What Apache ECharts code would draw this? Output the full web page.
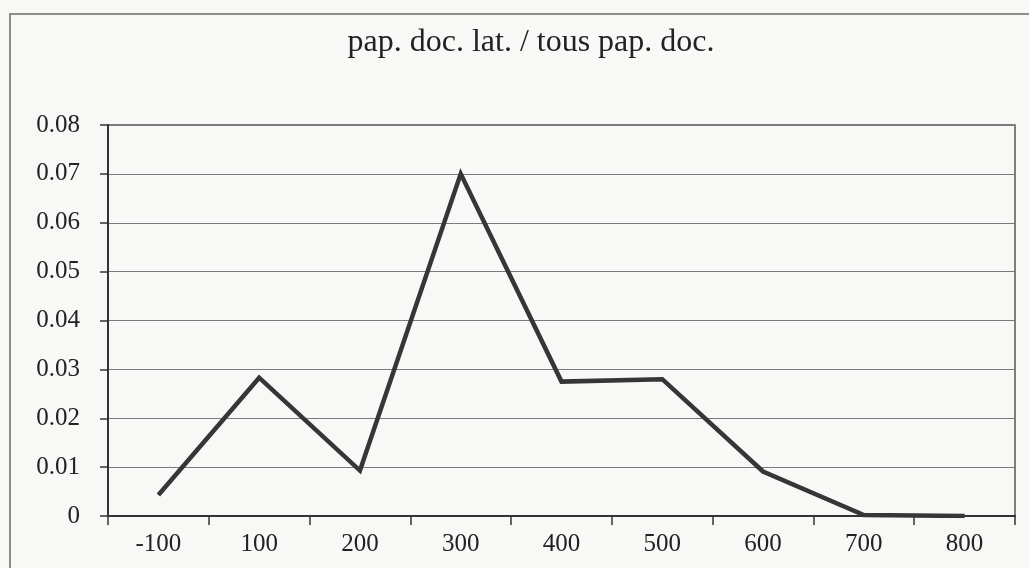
<!DOCTYPE html>
<html>
<head>
<meta charset="utf-8">
<script src="https://cdn.jsdelivr.net/npm/echarts@6/dist/echarts.min.js"></script>
<style>
  html, body { margin: 0; padding: 0; background: #f8f8f6; }
  #chart { width: 1029px; height: 568px; }
</style>
</head>
<body>
<div id="chart"></div>
<script>
// années (catégories) et rapport pap. doc. lat. / tous pap. doc.
const years = ['-100', '100', '200', '300', '400', '500', '600', '700', '800']
const ratio = [0.0043, 0.0283, 0.0093, 0.070, 0.0275, 0.0280, 0.0091, 0.0002, 0]
const titleText = 'pap. doc. lat. / tous pap. doc.'

const serif = '"Liberation Serif", "DejaVu Serif", serif'
const chart = echarts.init(document.getElementById('chart'))

chart.setOption({
  backgroundColor: '#f8f8f6',
  animation: false,
  title: {
    text: titleText,
    left: 526,
    textAlign: 'center',
    top: 22,
    textStyle: { fontFamily: serif, fontSize: 32, fontWeight: 'normal', color: '#222' }
  },
  // cadre extérieur du graphique
  graphic: [{
    type: 'rect', silent: true,
    shape: { x: 10, y: 14, width: 1040, height: 600 },
    style: { fill: 'none', stroke: '#6a6a6a', lineWidth: 1.5 }
  }],
  grid: {
    left: 108, right: 14, top: 125, bottom: 52,
    show: true, borderColor: '#555', borderWidth: 1.5, backgroundColor: 'transparent'
  },
  xAxis: {
    type: 'category', data: years, boundaryGap: true,
    axisLine: { lineStyle: { color: '#333', width: 2 } },
    axisTick: { show: true, inside: false, length: 9, interval: 0, lineStyle: { color: '#333', width: 1.5 } },
    axisLabel: { interval: 0, margin: 16, fontFamily: serif, fontSize: 25, color: '#222' },
    splitLine: { show: false }
  },
  yAxis: {
    type: 'value', min: 0, max: 0.08, interval: 0.01,
    axisLine: { show: true, lineStyle: { color: '#333', width: 2 } },
    axisTick: { show: true, inside: false, length: 8, lineStyle: { color: '#333', width: 1.5 } },
    axisLabel: {
      margin: 28, fontFamily: serif, fontSize: 25, color: '#222',
      formatter: (v) => (v === 0 ? '0' : v.toFixed(2))
    },
    splitLine: { show: true, lineStyle: { color: '#7a7a7a', width: 1.2 } }
  },
  series: [{
    type: 'line', data: ratio, symbol: 'none',
    lineStyle: { color: '#363636', width: 4.5, join: 'miter' }
  }]
})
</script>
</body>
</html>
